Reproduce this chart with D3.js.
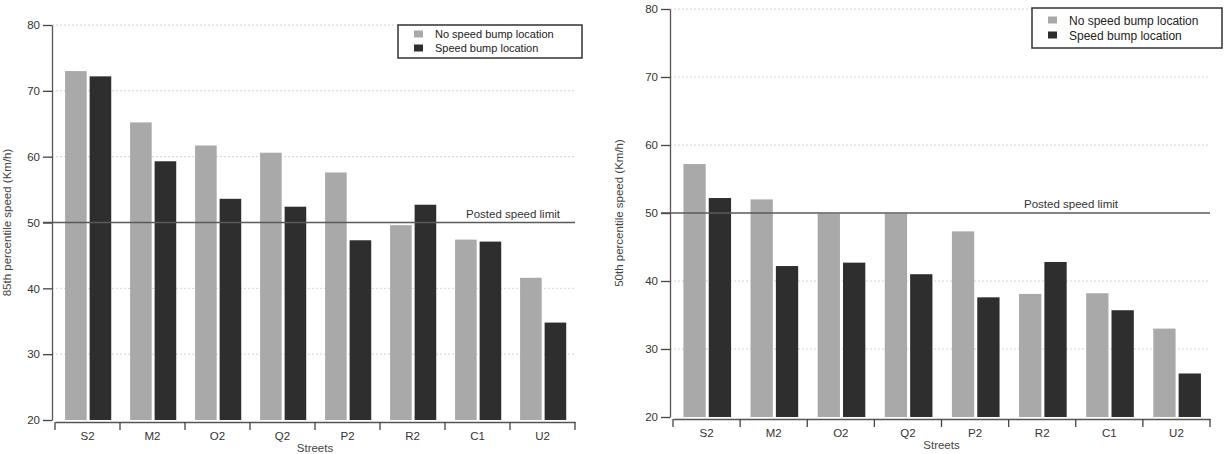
<!DOCTYPE html>
<html>
<head>
<meta charset="utf-8">
<script src="https://cdn.jsdelivr.net/npm/d3@7"></script>
<style>
  body { margin: 0; background: #fff; }
  svg { display: block; font-family: "Liberation Sans", Arial, sans-serif; }
</style>
</head>
<body>
<svg id="chart" width="1227" height="454"></svg>
<script>
// data
const streets = ["S2", "M2", "O2", "Q2", "P2", "R2", "C1", "U2"];
const seriesNames = ["No speed bump location", "Speed bump location"];
const p85NoBump = [73.0, 65.2, 61.7, 60.6, 57.6, 49.6, 47.4, 41.6];
const p85Bump   = [72.2, 59.3, 53.6, 52.4, 47.3, 52.7, 47.1, 34.8];
const p50NoBump = [57.2, 52.0, 49.9, 49.9, 47.3, 38.1, 38.2, 33.0];
const p50Bump   = [52.2, 42.2, 42.7, 41.0, 37.6, 42.8, 35.7, 26.4];
const yTicks = [20, 30, 40, 50, 60, 70, 80];
const speedLimit = 50;
const limitLabel = "Posted speed limit";
const xTitle = "Streets";

const colors = ["#a9a9a9", "#2e2e2e"];

window.onload = function () {
    var svg = d3.select("#chart");

    draw(svg, {
        series: [p85NoBump, p85Bump],
        yTitle: "85th percentile speed (Km/h)",
        xRange: [55, 575], yRange: [420, 25], axisX: 52, axisY: 422,
        tickLen: 9, font: 11.5,
        titleX: 11, limitEnd: 560,
        legend: {x: 398, y: 25, w: 184, h: 33, font: 11, row: 14}
    });

    draw(svg, {
        series: [p50NoBump, p50Bump],
        yTitle: "50th percentile speed (Km/h)",
        xRange: [673, 1210], yRange: [417, 9], axisX: 670, axisY: 419,
        tickLen: 9, font: 11.5,
        titleX: 623, limitEnd: 1118,
        legend: {x: 1032, y: 8, w: 190, h: 40, font: 12, row: 15}
    });
};

function draw(svg, cfg) {
    var g = svg.append("g");

    var x = d3.scaleBand().domain(streets).range(cfg.xRange);
    var bw = x.bandwidth();
    var sub = d3.scaleBand().domain([0, 1])
        .range([bw * 0.155, bw * 0.865]).paddingInner(0.12);
    var y = d3.scaleLinear().domain([20, 80]).range(cfg.yRange);

    // dotted grid
    g.selectAll(".grid")
        .data(yTicks.filter(d => d != 20 && d != speedLimit))
        .join("line")
        .attr("x1", cfg.axisX).attr("x2", cfg.xRange[1])
        .attr("y1", d => y(d)).attr("y2", d => y(d))
        .attr("stroke", "#c8c8c8")
        .attr("stroke-dasharray", "2,2")
        .attr("stroke-width", 0.8);

    // bars
    var rows = streets.map((s, i) => ({street: s, values: cfg.series.map(v => v[i])}));
    g.selectAll(".grp")
        .data(rows)
        .join("g")
        .attr("transform", d => `translate(${x(d.street)},0)`)
        .selectAll("rect")
        .data(d => d.values.map((v, k) => ({k: k, v: v})))
        .join("rect")
        .attr("x", d => sub(d.k))
        .attr("width", sub.bandwidth())
        .attr("y", d => y(d.v))
        .attr("height", d => y(20) - y(d.v))
        .attr("fill", d => colors[d.k]);

    // posted speed limit
    g.append("line")
        .attr("x1", cfg.axisX - cfg.tickLen).attr("x2", cfg.xRange[1])
        .attr("y1", y(speedLimit)).attr("y2", y(speedLimit))
        .attr("stroke", "#5a5a5a")
        .attr("stroke-width", 1.4);
    g.append("text")
        .attr("x", cfg.limitEnd).attr("y", y(speedLimit) - 5)
        .attr("text-anchor", "end")
        .attr("font-size", cfg.font)
        .attr("fill", "#333")
        .text(limitLabel);

    // y axis
    var yAxis = g.append("g")
        .attr("transform", `translate(${cfg.axisX},0)`)
        .call(d3.axisLeft(y).tickValues(yTicks).tickSize(cfg.tickLen).tickSizeOuter(0).tickPadding(3));
    yAxis.select(".domain").attr("stroke", "#555").attr("stroke-width", 1.3);
    yAxis.selectAll(".tick line").attr("stroke", "#444").attr("stroke-width", 1.3);
    yAxis.selectAll("text").attr("font-size", cfg.font).attr("fill", "#333")
        .attr("font-family", "Liberation Sans, Arial, sans-serif");

    // x axis: labels centred, ticks on band edges
    var xAxis = g.append("g")
        .attr("transform", `translate(0,${cfg.axisY})`)
        .call(d3.axisBottom(x).tickSize(0).tickSizeOuter(0).tickPadding(10));
    xAxis.select(".domain").attr("stroke", "#555").attr("stroke-width", 1.3);
    xAxis.selectAll("text").attr("font-size", cfg.font).attr("fill", "#333")
        .attr("font-family", "Liberation Sans, Arial, sans-serif");
    var edges = streets.map(s => x(s)).concat([cfg.xRange[1]]);
    xAxis.selectAll(".edge")
        .data(edges)
        .join("line")
        .attr("x1", d => d).attr("x2", d => d)
        .attr("y1", 0).attr("y2", 8)
        .attr("stroke", "#444").attr("stroke-width", 1.3);

    g.append("text")
        .attr("x", (cfg.xRange[0] + cfg.xRange[1]) / 2)
        .attr("y", cfg.axisY + 30)
        .attr("text-anchor", "middle")
        .attr("font-size", cfg.font)
        .attr("fill", "#444")
        .text(xTitle);

    g.append("text")
        .attr("transform", `translate(${cfg.titleX},${(cfg.yRange[0] + cfg.yRange[1]) / 2}) rotate(-90)`)
        .attr("text-anchor", "middle")
        .attr("font-size", cfg.font)
        .attr("fill", "#444")
        .text(cfg.yTitle);

    // legend
    var L = cfg.legend;
    var lg = g.append("g").attr("transform", `translate(${L.x},${L.y})`);
    lg.append("rect")
        .attr("width", L.w).attr("height", L.h)
        .attr("fill", "#fff").attr("stroke", "#333").attr("stroke-width", 1.5);
    var items = lg.selectAll(".item")
        .data(seriesNames)
        .join("g")
        .attr("transform", (d, i) => `translate(0,${L.h / 2 + (i - 0.5) * L.row})`);
    items.append("rect")
        .attr("x", 16).attr("y", -4)
        .attr("width", 9).attr("height", 7)
        .attr("fill", (d, i) => colors[i]);
    items.append("text")
        .attr("x", 37).attr("dy", "0.35em")
        .attr("font-size", L.font)
        .attr("fill", "#222")
        .text(d => d);
}
</script>
</body>
</html>
